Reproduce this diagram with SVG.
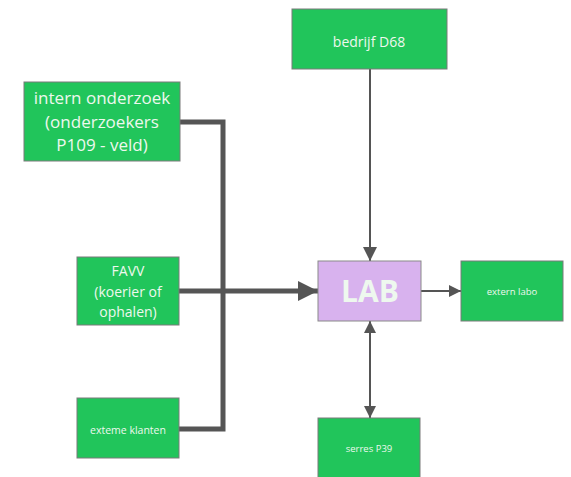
<svg xmlns="http://www.w3.org/2000/svg" width="571" height="477" viewBox="0 0 571 477">
<defs>
<style>
.g{fill:#21c55b;stroke:#7a7a7a;stroke-width:1}
.t{fill:#eef8ee;font-family:"Open Sans","Noto Sans",sans-serif;text-anchor:middle}
.thick{stroke:#555;stroke-width:5;fill:none}
.thin{stroke:#555;stroke-width:2;fill:none}
</style>
<marker id="big" markerUnits="userSpaceOnUse" viewBox="0 0 20 20" refX="20" refY="10" markerWidth="20" markerHeight="20" orient="auto"><path d="M0,0 L20,10 L0,20 Z" fill="#555"/></marker>
<marker id="sm" markerUnits="userSpaceOnUse" viewBox="0 0 12 12" refX="12" refY="6" markerWidth="12" markerHeight="12" orient="auto-start-reverse"><path d="M0,0 L12,6 L0,12 Z" fill="#555"/></marker>
<marker id="md" markerUnits="userSpaceOnUse" viewBox="0 0 14 14" refX="14" refY="7" markerWidth="14" markerHeight="14" orient="auto"><path d="M0,0 L14,7 L0,14 Z" fill="#555"/></marker>
</defs>
<rect width="571" height="477" fill="#fff"/>
<g id="connectors">
<polyline class="thick" points="180,122 223,122 223,429 179,429"/>
<line class="thick" x1="179" y1="291" x2="318" y2="291" marker-end="url(#big)"/>
<line class="thin" stroke-width="3" x1="370" y1="69" x2="370" y2="261" marker-end="url(#md)"/>
<line class="thin" x1="421" y1="291" x2="461" y2="291" marker-end="url(#sm)"/>
<line class="thin" x1="370" y1="321" x2="370" y2="418" marker-start="url(#sm)" marker-end="url(#sm)"/>
</g>
<g id="intern">
<rect class="g" x="24" y="82" width="156" height="79"/>
<text class="t" font-size="17" x="102"><tspan x="102" y="104">intern onderzoek</tspan><tspan x="102" y="128">(onderzoekers</tspan><tspan x="102" y="151">P109 - veld)</tspan></text>
</g>
<g id="favv">
<rect class="g" x="77" y="257" width="102" height="68"/>
<text class="t" font-size="14"><tspan x="128" y="276">FAVV</tspan><tspan x="128" y="297">(koerier of</tspan><tspan x="128" y="317">ophalen)</tspan></text>
</g>
<g id="externe">
<rect class="g" x="77" y="398" width="102" height="60"/>
<text class="t" font-size="10.5" x="128" y="434">exteme klanten</text>
</g>
<g id="bedrijf">
<rect class="g" x="292" y="9" width="155" height="60"/>
<text class="t" font-size="14" x="369" y="47">bedrijf D68</text>
</g>
<g id="lab">
<rect x="318" y="261" width="103" height="60" fill="#d8b2ee" stroke="#8a8a8a" stroke-width="1"/>
<text class="t" font-size="30" font-weight="bold" x="370" y="302" fill="#fff">LAB</text>
</g>
<g id="externlabo">
<rect class="g" x="461" y="261" width="102" height="60"/>
<text class="t" font-size="9.5" x="512" y="295">extern labo</text>
</g>
<g id="serres">
<rect class="g" x="318" y="418" width="102" height="62"/>
<text class="t" font-size="9.5" x="369" y="452">serres P39</text>
</g>
</svg>
